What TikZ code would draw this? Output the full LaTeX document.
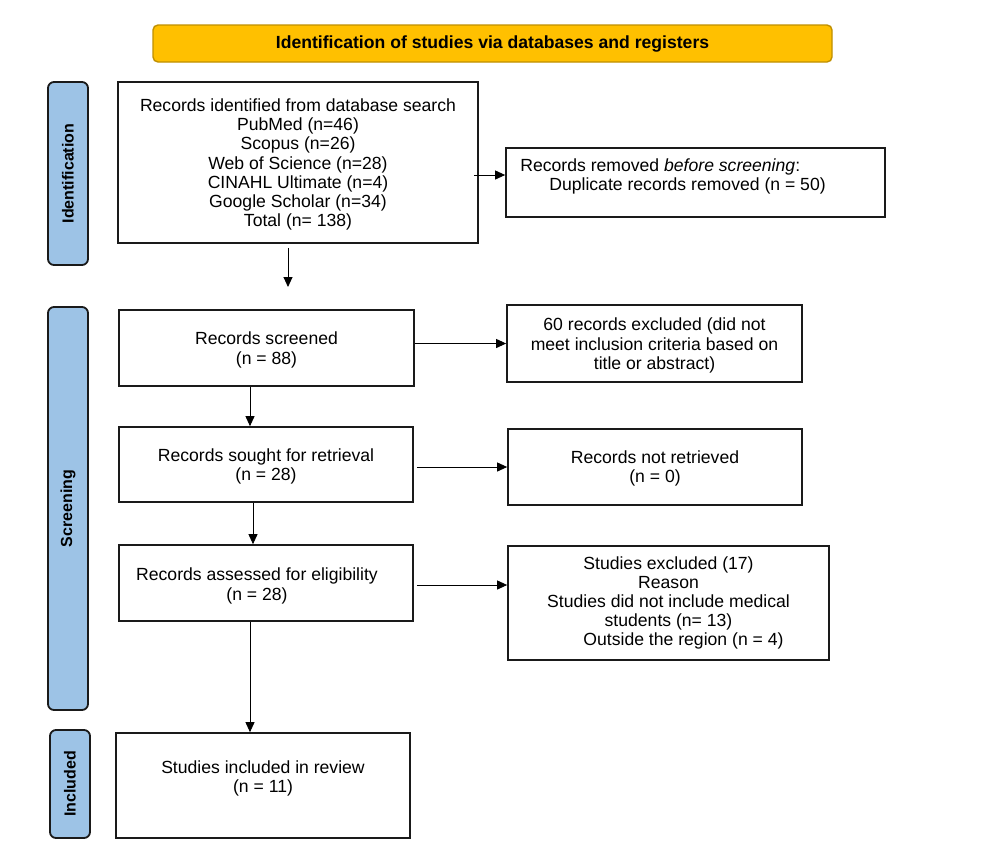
\documentclass[tikz,border=0pt]{standalone}
\usepackage{fontspec}
\setmainfont{Liberation Sans}
\usetikzlibrary{arrows.meta,calc}
\definecolor{bannerfill}{HTML}{FFC000}
\definecolor{bannerline}{HTML}{C09000}
\definecolor{sidefill}{HTML}{9DC3E6}
\definecolor{boxline}{HTML}{1A1A1A}
\begin{document}
\begin{tikzpicture}[x=1pt,y=-1pt,
  txt/.style={font=\fontsize{17.6}{19.2}\selectfont, align=center, inner sep=0pt},
  box/.style={txt, draw=boxline, line width=1.7pt, fill=white},
  sidebox/.style={draw=boxline, line width=1.8pt, fill=sidefill, rounded corners=6pt, inner sep=0pt},
  sidetext/.style={font=\fontsize{16}{19}\selectfont\bfseries, rotate=90, inner sep=0pt},
  arr/.style={-{Triangle[length=10pt,width=9pt]}, line width=0.9pt, draw=black}]
\useasboundingbox (0,0) rectangle (986,863);
\fill[white] (0,0) rectangle (986,863);

% banner
\node[draw=bannerline, line width=1.4pt, fill=bannerfill, rounded corners=5pt,
      minimum width=679pt, minimum height=37pt, inner sep=0pt,
      font=\fontsize{17.6}{19}\selectfont\bfseries] (banner) at (492.5,43.5)
      {Identification of studies via databases and registers};

% side labels
\node[sidebox, minimum width=40pt, minimum height=183pt] (sideid) at (68,173.5) {};
\node[sidetext] (sideidt) at (sideid.center) {Identification};
\node[sidebox, minimum width=40pt, minimum height=403pt] (sidescr) at (68,508.5) {};
\node[sidetext] (sidescrt) at (sidescr.center) {Screening};
\node[sidebox, minimum width=40pt, minimum height=108pt] (sideinc) at (70,784) {};
\node[sidetext] (sideinct) at (sideinc.center) {Included};

% boxes
\node[box, minimum width=360pt, minimum height=161pt] (box1) at (298,162.5) {};
\node[txt] (box1t) at ($(box1.center)+(0,2)$)
  {Records identified from database search\\PubMed (n=46)\\Scopus (n=26)\\Web of Science (n=28)\\CINAHL Ultimate (n=4)\\Google Scholar (n=34)\\Total (n= 138)};

\node[box, minimum width=379pt, minimum height=69pt] (rem) at (695.5,182.5) {};
\node[txt, anchor=west, align=left] (remt) at ($(rem.west)+(15,-6)$)
  {Records removed \textit{before screening}:\\\hspace*{29pt}Duplicate records removed (n = 50)};

\node[box, minimum width=295pt, minimum height=76pt] (scr) at (266.5,348) {};
\node[txt] (scrt) at ($(scr.center)+(0,2)$) {Records screened\\(n = 88)};
\node[box, minimum width=295pt, minimum height=77pt] (exc) at (654.5,343.5) {};
\node[txt] (exct) at ($(exc.center)+(0,2)$)
  {60 records excluded (did not\\meet inclusion criteria based on\\title or abstract)};

\node[box, minimum width=294pt, minimum height=75pt] (sought) at (266,464.5) {};
\node[txt] (soughtt) at ($(sought.center)+(0,2)$) {Records sought for retrieval\\(n = 28)};
\node[box, minimum width=294pt, minimum height=76pt] (notret) at (655,467) {};
\node[txt] (notrett) at ($(notret.center)+(0,1.5)$) {Records not retrieved\\(n = 0)};

\node[box, minimum width=294pt, minimum height=76pt] (ass) at (266,583) {};
\node[txt] (asst) at ($(ass.center)+(-9,3)$)
  {Records assessed for eligibility\\(n = 28)};

\node[box, minimum width=321pt, minimum height=114pt] (stex) at (668.5,603) {};
\node[txt] (stext) at ($(stex.center)+(0,0)$)
  {Studies excluded (17)\\Reason\\Studies did not include medical\\students (n= 13)\\\hspace*{30pt}Outside the region (n = 4)};

\node[box, minimum width=294pt, minimum height=105pt] (inc) at (263,785.5) {};
\node[txt] (inct) at ($(inc.center)+(0,-7)$)
  {Studies included in review\\(n = 11)};

% connectors
\coordinate (d1) at (288,287);
\draw[arr] ($(box1.south)+(-10,4)$) -- (d1);
\draw[arr] ($(box1.east)+(-5,12.5)$) -- ($(rem.west)+(0,-7.5)$);
\draw[arr] (scr.east |- exc.west) -- (exc.west);
\draw[arr] ($(scr.south)+(-16.5,0)$) -- ($(sought.north)+(-16,0)$);
\draw[arr] ($(sought.east |- notret.west)+(3,0)$) -- (notret.west);
\draw[arr] ($(sought.south)+(-13,0)$) -- ($(ass.north)+(-13,0)$);
\draw[arr] ($(ass.east)+(3,2)$) -- ($(ass.east -| stex.west)+(0,2)$);
\draw[arr] ($(ass.south)+(-16,0)$) -- ($(inc.north)+(-13,0)$);
\end{tikzpicture}
\end{document}
